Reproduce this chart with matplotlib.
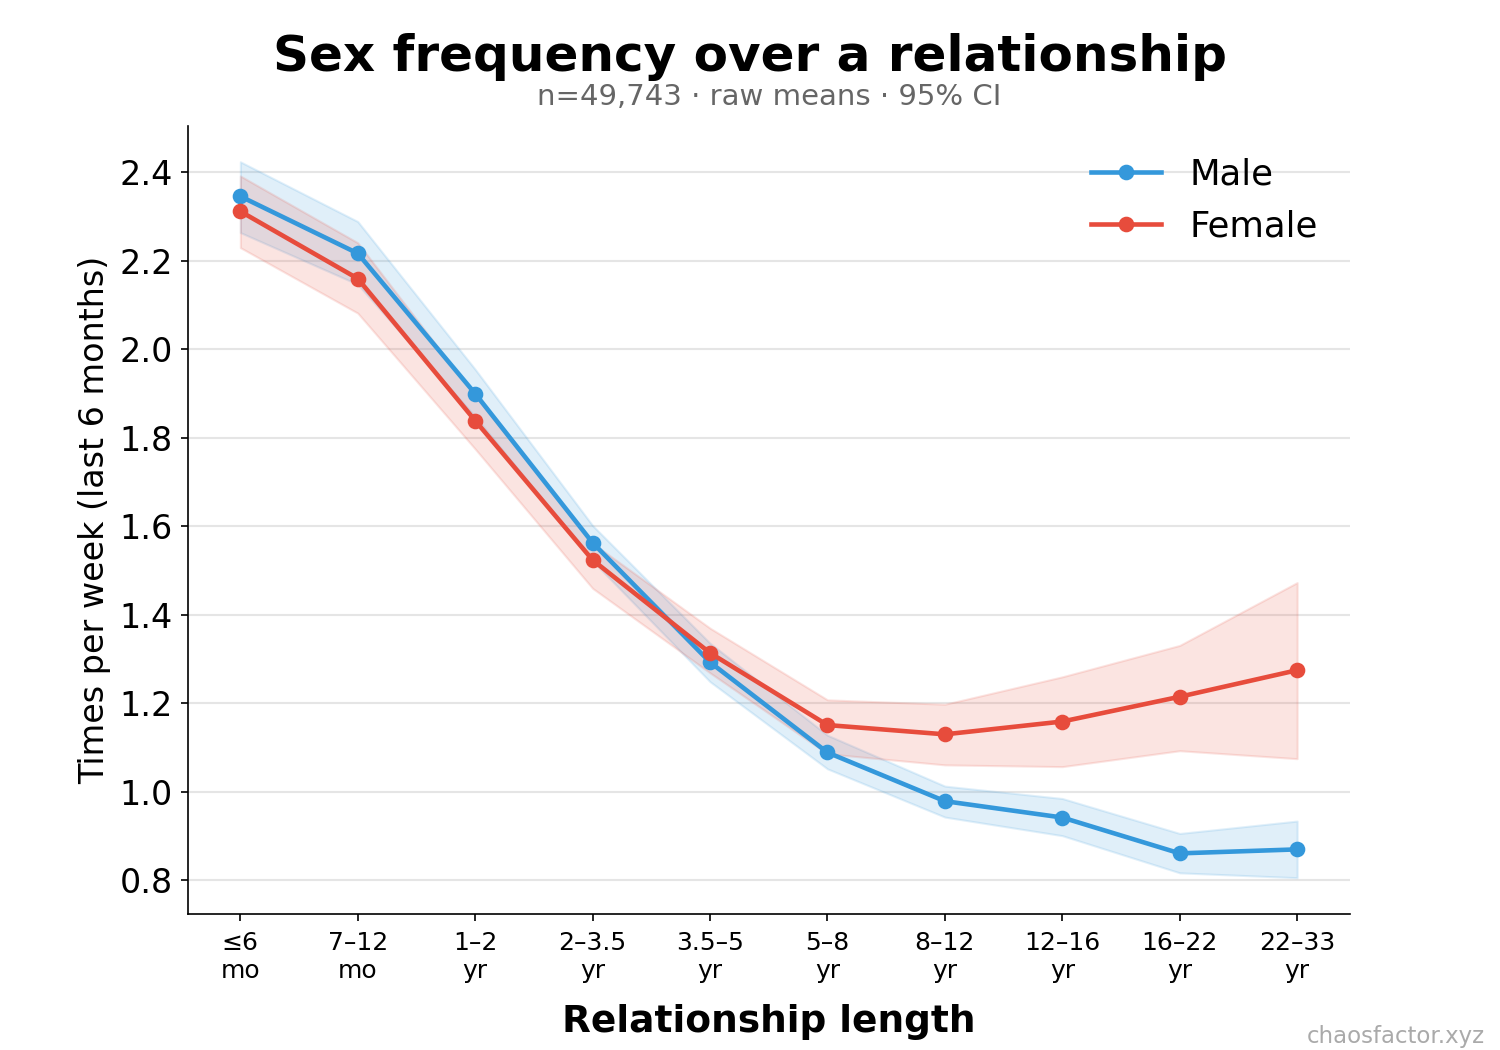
import matplotlib
matplotlib.use("Agg")
import matplotlib.pyplot as plt
import numpy as np

categories = ["≤6\nmo", "7–12\nmo", "1–2\nyr", "2–3.5\nyr", "3.5–5\nyr",
              "5–8\nyr", "8–12\nyr", "12–16\nyr", "16–22\nyr", "22–33\nyr"]

male_mean = [2.346, 2.217, 1.900, 1.563, 1.293, 1.089, 0.979, 0.942, 0.861, 0.870]
male_lo = [2.264, 2.147, 1.848, 1.522, 1.249, 1.052, 0.943, 0.901, 0.817, 0.806]
male_hi = [2.424, 2.289, 1.955, 1.602, 1.336, 1.128, 1.013, 0.985, 0.906, 0.934]

female_mean = [2.312, 2.160, 1.839, 1.524, 1.314, 1.151, 1.130, 1.159, 1.215, 1.275]
female_lo = [2.230, 2.082, 1.775, 1.460, 1.269, 1.086, 1.061, 1.057, 1.093, 1.075]
female_hi = [2.392, 2.241, 1.895, 1.562, 1.370, 1.208, 1.198, 1.260, 1.331, 1.473]

BLUE = "#3498db"
RED = "#e74c3c"

fig, ax = plt.subplots(figsize=(10, 7), dpi=150)
fig.subplots_adjust(left=0.125, right=0.9, bottom=0.13, top=0.88)

x = np.arange(len(categories))
ax.fill_between(x, male_lo, male_hi, color=BLUE, alpha=0.15, linewidth=1)
ax.fill_between(x, female_lo, female_hi, color=RED, alpha=0.15, linewidth=1)
ax.plot(x, male_mean, color=BLUE, lw=2.2, marker="o", ms=6.5, label="Male")
ax.plot(x, female_mean, color=RED, lw=2.2, marker="o", ms=6.5, label="Female")

ax.set_xticks(x)
ax.set_xticklabels(categories, fontsize=12)
ax.tick_params(axis="x", pad=5)
ax.set_yticks([0.8, 1.0, 1.2, 1.4, 1.6, 1.8, 2.0, 2.2, 2.4])
ax.tick_params(axis="y", labelsize=16)
ax.yaxis.grid(True, color="#e5e5e5", lw=1)
ax.set_axisbelow(True)
for s in ["top", "right"]:
    ax.spines[s].set_visible(False)

ax.set_ylabel("Times per week (last 6 months)", fontsize=16)
ax.set_xlabel("Relationship length", fontsize=18, fontweight="bold", labelpad=10)

ax.legend(loc="upper right", frameon=False, fontsize=17)

fig.text(0.5, 0.946, "Sex frequency over a relationship", ha="center", va="center",
         fontsize=24, fontweight="bold")
ax.text(0.5, 0.908, "n=49,743 · raw means · 95% CI", ha="center", va="center",
        fontsize=14, color="#666666",
        transform=matplotlib.transforms.blended_transform_factory(ax.transAxes, fig.transFigure))
fig.text(0.99, 0.0124, "chaosfactor.xyz", ha="right", va="center", fontsize=11,
         color="#aaaaaa")

fig.savefig("out.png", dpi=150)
